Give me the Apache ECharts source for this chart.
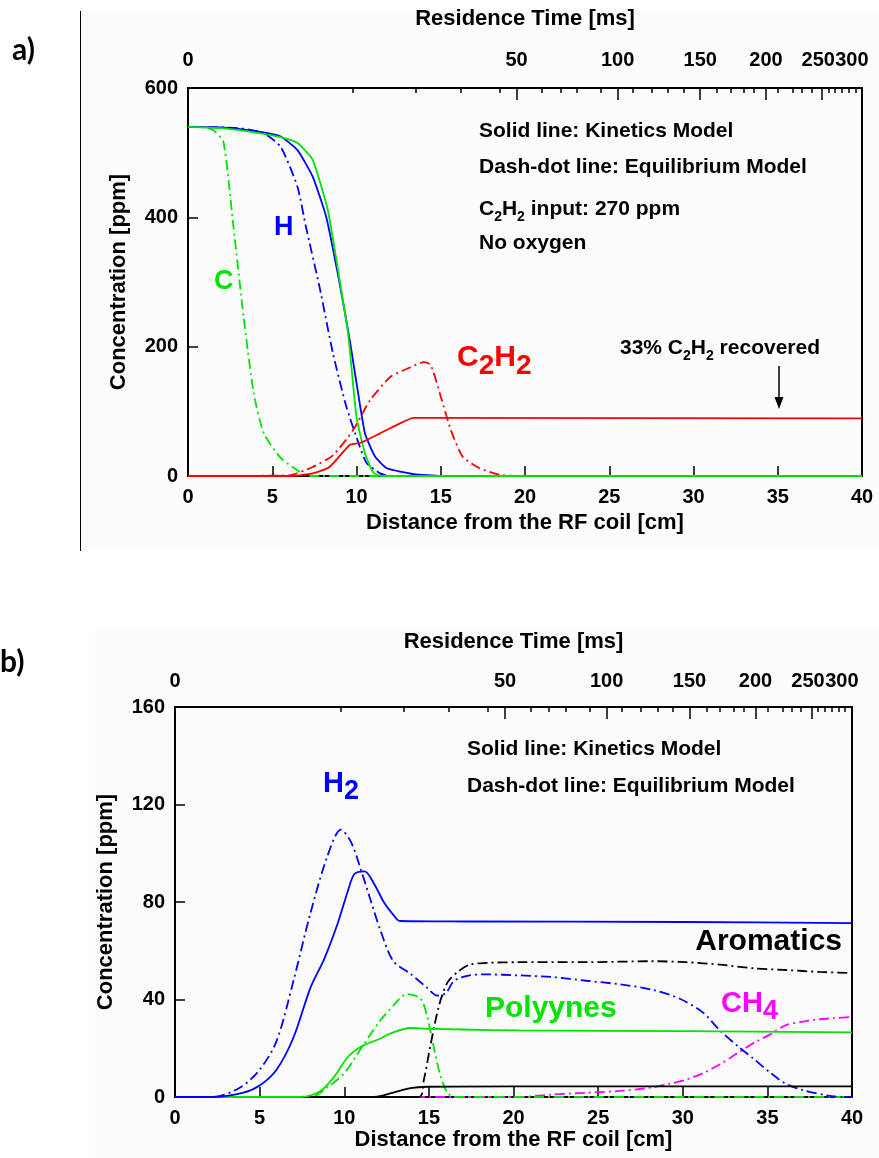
<!DOCTYPE html>
<html>
<head>
<meta charset="utf-8">
<script src="https://cdn.jsdelivr.net/npm/echarts@6.0.0/dist/echarts.min.js"></script>
<style>
  html, body { margin: 0; padding: 0; background: #fff; }
  #chart { width: 879px; height: 1158px; }
</style>
</head>
<body>
<div id="chart"></div>
<script>
// residence time axis (top): labels and where they sit on the distance scale [cm]
const resLabels = ['0', '50', '100', '150', '200', '250', '300'];
const resLabelPos = [0, 19.5, 25.5, 30.4, 34.3, 37.4, 39.4];
const resMajorPos = [19.5, 25.5, 30.4, 34.3, 37.6, 40];
const resMinorPos = [9.8, 13.5, 16.2, 18.5, 21.0, 22.1, 23.1, 24.5, 26.4, 27.5, 28.5, 29.4,
  31.4, 32.2, 33.0, 33.6, 35.0, 35.9, 36.45, 37.0, 38.0, 38.4, 38.8, 39.2, 39.6];

// ---- panel a) ----
const aHKinX = [0, 2, 4.3, 5.5, 6.5, 7.4, 8.2, 9.0, 9.6, 10.0, 10.5, 11.1, 11.8, 13.4, 15, 40];
const aHKinY = [540, 539, 532, 525, 504, 463, 401, 298, 210, 144, 66, 30, 12, 3, 0, 0];
const aCKinX = [0, 2, 4.3, 5.5, 6.5, 7.4, 8.3, 9.0, 9.5, 10.0, 10.5, 11.0, 11.5, 40];
const aCKinY = [540, 538, 530, 524, 515, 489, 411, 303, 221, 91, 35, 5, 0, 0];
const aHEqX = [0, 3, 4.5, 5.5, 6.5, 7.0, 7.8, 8.6, 9.4, 10.2, 10.6, 11.4, 12, 40];
const aHEqY = [540, 538, 530, 509, 447, 385, 293, 190, 107, 45, 20, 4, 0, 0];
const aCEqX = [0, 1, 1.5, 2.1, 2.7, 3.3, 3.9, 4.5, 5.5, 6.6, 7.2, 40];
const aCEqY = [540, 539, 535, 517, 385, 246, 128, 66, 28, 7, 0, 0];
const aC2H2KinX = [0, 6.0, 7.4, 8.4, 9.6, 10.2, 11.4, 12.4, 13.4, 14.0, 40];
const aC2H2KinY = [0, 0, 4, 14, 48, 51, 66, 79, 90, 90, 89];
const aC2H2EqX = [0, 6.0, 7.4, 8.6, 9.8, 10.8, 12.0, 13.1, 14.0, 14.4, 15.0, 15.6, 16.3, 17.3, 18.5, 19.5, 40];
const aC2H2EqY = [0, 1, 14, 32, 71, 117, 153, 167, 176, 172, 123, 71, 30, 12, 2, 0, 0];

// ---- panel b) ----
const bH2KinX = [0, 2.2, 4.05, 5.0, 6.0, 7.0, 8.0, 8.8, 9.6, 10.2, 10.6, 11.2, 11.8, 12.35, 12.9, 13.3, 17, 30, 40];
const bH2KinY = [0, 0, 1.8, 4.7, 11.2, 24.4, 44.8, 56.4, 71, 84.2, 91.5, 92.6, 87, 79.8, 74.7, 72.2, 72, 71.8, 71.3];
const bH2EqX = [0, 2.2, 3.85, 5.0, 6.0, 7.0, 8.0, 9.0, 9.8, 10.4, 11.0, 11.6, 12.15, 12.9, 13.9, 14.9, 15.5,
  16.0, 16.5, 17.4, 18.4, 20.3, 22.3, 24.3, 26.3, 28.2, 29.8, 31.2, 32.2, 33.4, 34.2, 35.2, 36.1, 37.1, 38.5, 39.5, 40];
const bH2EqY = [0, 0, 3.9, 11.2, 22.9, 47.7, 75.4, 98.7, 109.7, 104.6, 92.9, 79.8, 68.1, 55.7, 50.6, 44.8, 41.6,
  42.6, 47.7, 49.9, 50.3, 49.9, 49.2, 47.7, 46.2, 44, 40.4, 34.6, 27.3, 20, 15.6, 9.8, 5.4, 2.8, 0.7, 0, 0];
const bAromEqX = [0, 14.4, 14.7, 15.1, 15.6, 16.1, 16.7, 17.4, 18.4, 20.3, 24.3, 28.2, 30.2, 32.2, 34.2, 36.1, 38.1, 40];
const bAromEqY = [0, 0, 6.9, 21.4, 37.5, 47, 51.3, 54.3, 55, 55.3, 55.3, 55.7, 55.3, 54.3, 52.8, 52.1, 51.3, 50.9];
const bAromKinX = [0, 11.8, 12.9, 13.9, 14.9, 20, 40];
const bAromKinY = [0, 0, 1.8, 3.6, 4.2, 4.4, 4.4];
const bPolyKinX = [0, 7.4, 8.6, 9.4, 10.2, 11.0, 12.0, 12.9, 13.9, 14.9, 17, 20.3, 30, 40];
const bPolyKinY = [0, 0, 2.5, 8.3, 16.3, 20.7, 23.6, 26.5, 28.3, 28, 27.7, 27.3, 27, 26.5];
const bPolyEqX = [0, 8.0, 9.0, 10.0, 11.0, 12.0, 12.9, 13.7, 14.5, 14.9, 15.3, 15.7, 16.1, 16.5, 40];
const bPolyEqY = [0, 0, 3.9, 9.8, 20, 30.2, 37.5, 42.2, 40.4, 33.1, 20, 8.3, 1.75, 0, 0];
const bCH4EqX = [0, 20.3, 22.3, 24.3, 26.3, 28.2, 29.2, 30.2, 31.2, 32.2, 33.2, 34.2, 35.2, 36.1, 37.1, 38.1, 40];
const bCH4EqY = [0, 0, 1, 1.75, 2.5, 3.9, 5.4, 7.1, 9.8, 13.4, 17.8, 22.2, 25.8, 29.5, 30.9, 31.9, 32.8];

const BLUE = '#0000ff', GREEN = '#00e400', RED = '#ff0000', MAGENTA = '#ff00ff', BLACK = '#000000';
const FONT = 'Liberation Sans';
const DASHDOT = [10, 4, 2, 4];

// plot rectangles of the two panels (the minor-tick grids sit on top of them)
const gridA = { left: 188, right: 17, top: 88, height: 388 };
const gridB = { left: 175, right: 27, top: 707, height: 390 };

function pairs(xs, ys) {
  return xs.map((x, i) => [x, ys[i]]);
}

function makeLine(xs, ys, color, dashed, panel, smooth) {
  return {
    type: 'line',
    xAxisIndex: panel === 0 ? 0 : 2,
    yAxisIndex: panel,
    data: pairs(xs, ys),
    showSymbol: false,
    smooth: smooth,
    lineStyle: { color: color, width: 1.8, type: dashed ? DASHDOT : 'solid' },
    silent: true
  };
}

function resFormatter(v) {
  let best = 0;
  resLabelPos.forEach((p, i) => {
    if (Math.abs(p - v) < Math.abs(resLabelPos[best] - v)) best = i;
  });
  return resLabels[best];
}

const tickText = { color: '#000', fontSize: 20, fontWeight: 'bold', fontFamily: FONT };
const nameText = { color: '#000', fontSize: 22, fontWeight: 'bold', fontFamily: FONT };

function bottomAxis(grid, gap) {
  return {
    type: 'value', gridIndex: grid, position: 'bottom', min: 0, max: 40, interval: 5,
    name: 'Distance from the RF coil [cm]', nameLocation: 'middle', nameGap: gap,
    nameTextStyle: nameText,
    axisLine: { show: true, onZero: false, lineStyle: { color: '#000', width: 2 } },
    axisTick: { inside: true, length: 10, lineStyle: { color: '#000', width: 1.5 } },
    axisLabel: Object.assign({ margin: 11 }, tickText),
    splitLine: { show: false }
  };
}

function topAxis(grid, gap, margin) {
  return {
    type: 'value', gridIndex: grid, position: 'top', min: 0, max: 40,
    name: 'Residence Time [ms]', nameLocation: 'middle', nameGap: gap,
    nameTextStyle: nameText,
    axisLine: { show: true, onZero: false, lineStyle: { color: '#000', width: 2 } },
    axisTick: { inside: true, length: 12, customValues: resMajorPos, lineStyle: { color: '#000', width: 1.5 } },
    axisLabel: Object.assign({ margin: margin, customValues: resLabelPos, formatter: resFormatter }, tickText),
    splitLine: { show: false }
  };
}

function topMinorAxis(grid) {
  return {
    type: 'value', gridIndex: grid, position: 'top', min: 0, max: 40,
    axisLine: { show: false, onZero: false },
    axisTick: { inside: true, length: 5, customValues: resMinorPos, lineStyle: { color: '#000', width: 1.5 } },
    axisLabel: { show: false },
    splitLine: { show: false }
  };
}

function leftAxis(grid, max, interval) {
  return {
    type: 'value', gridIndex: grid, min: 0, max: max, interval: interval,
    name: 'Concentration [ppm]', nameLocation: 'middle', nameGap: 58,
    nameTextStyle: nameText,
    axisLine: { show: true, onZero: false, lineStyle: { color: '#000', width: 2 } },
    axisTick: { inside: true, length: 10, lineStyle: { color: '#000', width: 1.5 } },
    axisLabel: Object.assign({ margin: 10 }, tickText),
    splitLine: { show: false }
  };
}

function hiddenY(grid) {
  return { type: 'value', gridIndex: grid, min: 0, max: 1, show: false };
}

function label(text, x, y, size, color, align) {
  return {
    type: 'text', x: x, y: y, silent: true,
    style: {
      text: text, fill: color || '#000', fontSize: size, fontWeight: 'bold', fontFamily: FONT,
      align: align || 'left', verticalAlign: 'middle'
    }
  };
}

// text with chemical subscripts, e.g. {n|C}{s|2}{n|H}{s|2}
function chem(text, x, y, size, subSize, drop, color, align) {
  return {
    type: 'text', x: x, y: y, silent: true,
    style: {
      text: text, fill: color, fontSize: size, fontWeight: 'bold', fontFamily: FONT,
      align: align || 'left', verticalAlign: 'middle',
      rich: {
        n: { fontSize: size, fontWeight: 'bold', fontFamily: FONT, fill: color, lineHeight: size + drop * 2 },
        s: { fontSize: subSize, fontWeight: 'bold', fontFamily: FONT, fill: color,
             verticalAlign: 'bottom', lineHeight: subSize, padding: [drop, 0, 0, 0] }
      }
    }
  };
}

function gridOf(rect, show) {
  return Object.assign({ show: show, borderColor: '#000', borderWidth: 2, backgroundColor: 'transparent',
    outerBoundsMode: 'none', containLabel: false }, rect);
}

const chart = echarts.init(document.getElementById('chart'));
chart.setOption({
  animation: false,
  backgroundColor: '#fff',
  grid: [gridOf(gridA, true), gridOf(gridB, true), gridOf(gridA, false), gridOf(gridB, false)],
  xAxis: [
    bottomAxis(0, 36), topAxis(0, 58, 18),
    bottomAxis(1, 32), topAxis(1, 54, 16),
    topMinorAxis(2), topMinorAxis(3)
  ],
  yAxis: [leftAxis(0, 600, 200), leftAxis(1, 160, 40), hiddenY(2), hiddenY(3)],
  series: [
    makeLine(aCEqX, aCEqY, GREEN, true, 0, 0.2),
    makeLine(aHEqX, aHEqY, BLUE, true, 0, 0.2),
    makeLine(aC2H2EqX, aC2H2EqY, RED, true, 0, 0.2),
    makeLine(aHKinX, aHKinY, BLUE, false, 0, 0.15),
    makeLine(aCKinX, aCKinY, GREEN, false, 0, 0.15),
    makeLine(aC2H2KinX, aC2H2KinY, RED, false, 0, 0.2),

    makeLine(bCH4EqX, bCH4EqY, MAGENTA, true, 1, 0.3),
    makeLine(bPolyEqX, bPolyEqY, GREEN, true, 1, 0.3),
    makeLine(bAromEqX, bAromEqY, BLACK, true, 1, 0.3),
    makeLine(bH2EqX, bH2EqY, BLUE, true, 1, 0.3),
    makeLine(bAromKinX, bAromKinY, BLACK, false, 1, 0.3),
    makeLine(bPolyKinX, bPolyKinY, GREEN, false, 1, 0.3),
    makeLine(bH2KinX, bH2KinY, BLUE, false, 1, 0.3)
  ],
  graphic: [
    { type: 'rect', z: -10, silent: true, shape: { x: 81, y: 11, width: 798, height: 540 }, style: { fill: '#fcfcfc' } },
    { type: 'rect', z: -10, silent: true, shape: { x: 95, y: 627, width: 784, height: 531 }, style: { fill: '#fbfbfb' } },
    { type: 'line', silent: true, shape: { x1: 80.5, y1: 11, x2: 80.5, y2: 551 }, style: { stroke: '#000', lineWidth: 1 } },
    { type: 'text', x: 12, y: 50, silent: true,
      style: { text: 'a)', fill: '#000', fontSize: 30, fontWeight: 'bold', fontFamily: 'Lato', verticalAlign: 'middle' } },
    { type: 'text', x: 0, y: 662, silent: true,
      style: { text: 'b)', fill: '#000', fontSize: 30, fontWeight: 'bold', fontFamily: 'Lato', verticalAlign: 'middle' } },

    // panel a) notes
    label('Solid line: Kinetics Model', 479, 131, 21),
    label('Dash-dot line: Equilibrium Model', 479, 167, 21),
    chem('{n|C}{s|2}{n|H}{s|2}{n| input: 270 ppm}', 479, 209, 21, 14, 5, '#000'),
    label('No oxygen', 479, 243, 21),
    chem('{n|33% C}{s|2}{n|H}{s|2}{n| recovered}', 620, 348, 21, 14, 5, '#000'),
    { type: 'line', silent: true, shape: { x1: 779, y1: 366, x2: 779, y2: 398 }, style: { stroke: '#000', lineWidth: 1.5 } },
    { type: 'polygon', silent: true, shape: { points: [[774.5, 397], [783.5, 397], [779, 409]] }, style: { fill: '#000' } },
    chem('{n|C}{s|2}{n|H}{s|2}', 457, 358, 30, 28, 7, RED),
    label('H', 274, 228, 27, BLUE),
    label('C', 214, 282, 27, GREEN),

    // panel b) notes
    label('Solid line: Kinetics Model', 467, 749, 21),
    label('Dash-dot line: Equilibrium Model', 467, 786, 21),
    chem('{n|H}{s|2}', 323, 784, 29, 27, 7, BLUE),
    label('Aromatics', 842, 942, 30, BLACK, 'right'),
    label('Polyynes', 485, 1009, 30, GREEN),
    chem('{n|CH}{s|4}', 721, 1004, 29, 27, 7, MAGENTA)
  ]
});
</script>
</body>
</html>
